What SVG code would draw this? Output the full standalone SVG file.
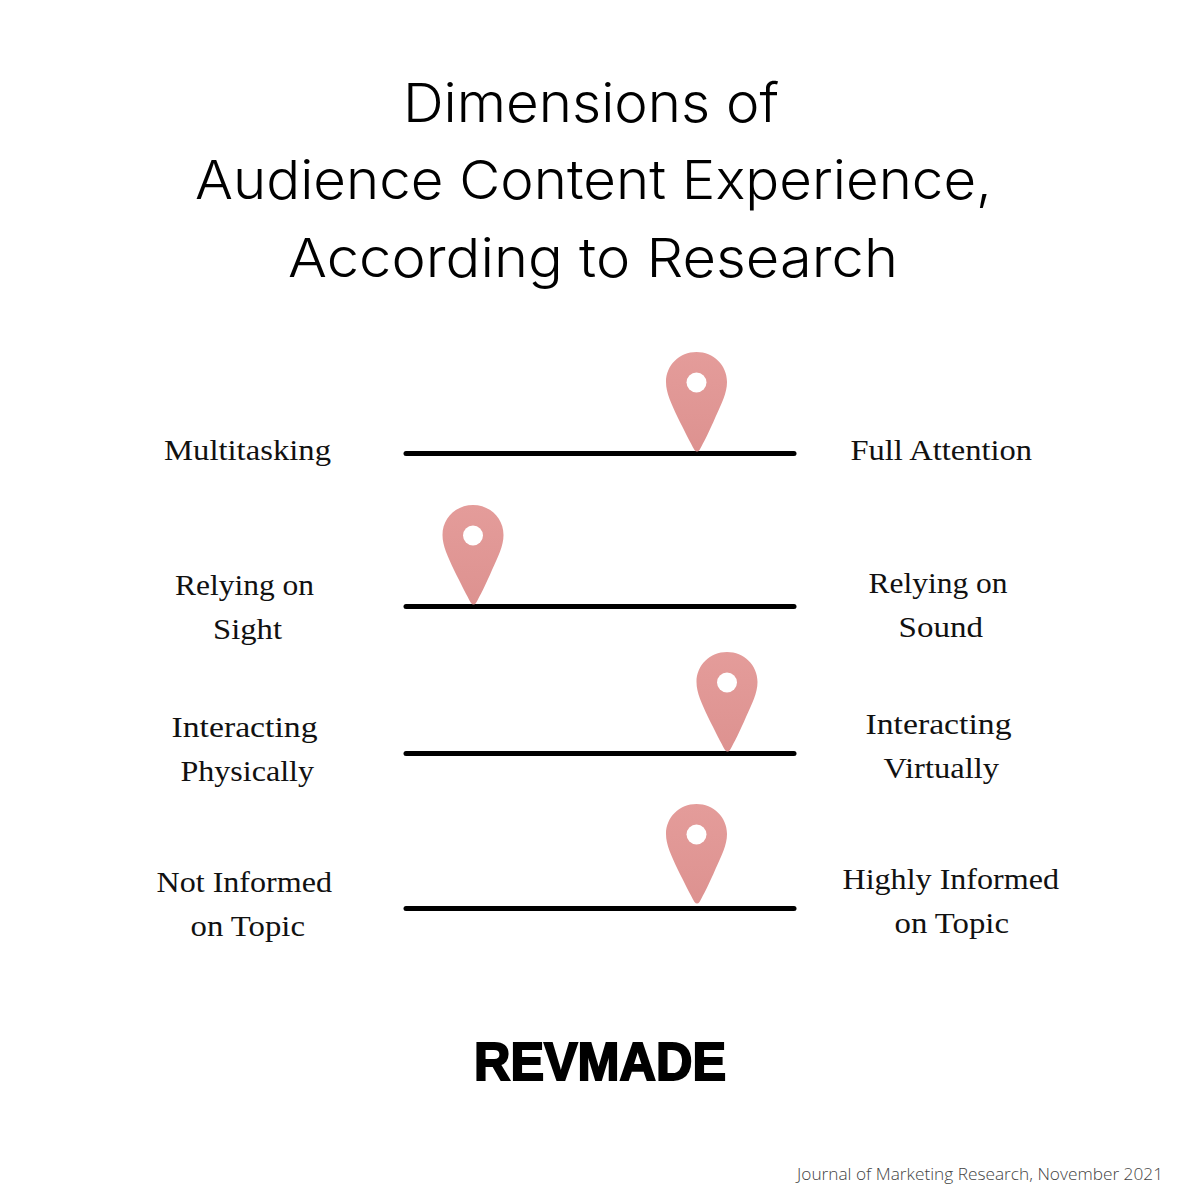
<svg xmlns="http://www.w3.org/2000/svg" width="1200" height="1200" viewBox="0 0 1200 1200">
<style>
.t{font-family:"Inter","Lato",sans-serif;font-weight:300;font-size:54px;fill:#000}
.l{font-family:"Liberation Serif","DejaVu Serif",serif;font-size:30px;fill:#111}
.b{fill:none;stroke:#000;stroke-width:5;stroke-linecap:round}
.f{font-family:"Open Sans",sans-serif;font-weight:300;font-size:17px;fill:#444}
.w{font-family:"Liberation Sans",sans-serif;font-weight:700;font-size:53.5px;fill:#000;stroke:#000;stroke-width:2}
</style>
<defs>
<linearGradient id="g" x1="0" y1="0" x2="0" y2="1"><stop offset="0" stop-color="#e49c9a"/><stop offset="1" stop-color="#dd9290"/></linearGradient>
<g id="pin"><path d="M0 0C-17 0-30.500 13-30.500 30C-30.500 41-25 52-19 65C-12 79-6 91-2 98Q0.500 101 3 98C7 91 13 79 19 65C25 52 30.500 41 30.500 30C30.500 13 17 0 0 0Z" fill="url(#g)"/><circle cx="0" cy="30.500" r="10" fill="#fff"/></g>
</defs>
<rect width="1200" height="1200" fill="#fff"/>
<g id="title">
<text class="t" x="403" y="122" textLength="376" lengthAdjust="spacingAndGlyphs">Dimensions of</text>
<text class="t" x="195" y="199" textLength="797" lengthAdjust="spacingAndGlyphs">Audience Content Experience,</text>
<text class="t" x="288" y="277" textLength="610" lengthAdjust="spacingAndGlyphs">According to Research</text>
</g>
<g id="connectors">
<path class="b" d="M406 453.500H794"/>
<path class="b" d="M406 606.500H794"/>
<path class="b" d="M406 753.500H794"/>
<path class="b" d="M406 908.500H794"/>
</g>
<g id="pin1"><use href="#pin" x="696.500" y="352"/></g>
<g id="pin2"><use href="#pin" x="473" y="505"/></g>
<g id="pin3"><use href="#pin" x="727" y="652"/></g>
<g id="pin4"><use href="#pin" x="696.500" y="804"/></g>
<g id="row1-left"><text class="l" x="164" y="459.500" textLength="167" lengthAdjust="spacingAndGlyphs">Multitasking</text></g>
<g id="row1-right"><text class="l" x="850.500" y="459.500" textLength="181.500" lengthAdjust="spacingAndGlyphs">Full Attention</text></g>
<g id="row2-left"><text class="l" x="175" y="595" textLength="139" lengthAdjust="spacingAndGlyphs">Relying on</text><text class="l" x="213" y="639" textLength="69" lengthAdjust="spacingAndGlyphs">Sight</text></g>
<g id="row2-right"><text class="l" x="868.500" y="593" textLength="139" lengthAdjust="spacingAndGlyphs">Relying on</text><text class="l" x="898.500" y="637" textLength="84.500" lengthAdjust="spacingAndGlyphs">Sound</text></g>
<g id="row3-left"><text class="l" x="171.500" y="737" textLength="146" lengthAdjust="spacingAndGlyphs">Interacting</text><text class="l" x="180.500" y="781" textLength="133.500" lengthAdjust="spacingAndGlyphs">Physically</text></g>
<g id="row3-right"><text class="l" x="865.500" y="734" textLength="146" lengthAdjust="spacingAndGlyphs">Interacting</text><text class="l" x="883.500" y="778" textLength="115.500" lengthAdjust="spacingAndGlyphs">Virtually</text></g>
<g id="row4-left"><text class="l" x="156.500" y="892" textLength="175.500" lengthAdjust="spacingAndGlyphs">Not Informed</text><text class="l" x="190.500" y="936" textLength="114.500" lengthAdjust="spacingAndGlyphs">on Topic</text></g>
<g id="row4-right"><text class="l" x="842.500" y="889" textLength="216.500" lengthAdjust="spacingAndGlyphs">Highly Informed</text><text class="l" x="894.500" y="933" textLength="114.500" lengthAdjust="spacingAndGlyphs">on Topic</text></g>
<g id="logo"><text class="w" x="474" y="1079.500" textLength="252" lengthAdjust="spacingAndGlyphs">REVMADE</text></g>
<g id="source"><text class="f" x="797" y="1180" textLength="366" lengthAdjust="spacingAndGlyphs">Journal of Marketing Research, November 2021</text></g>
</svg>
